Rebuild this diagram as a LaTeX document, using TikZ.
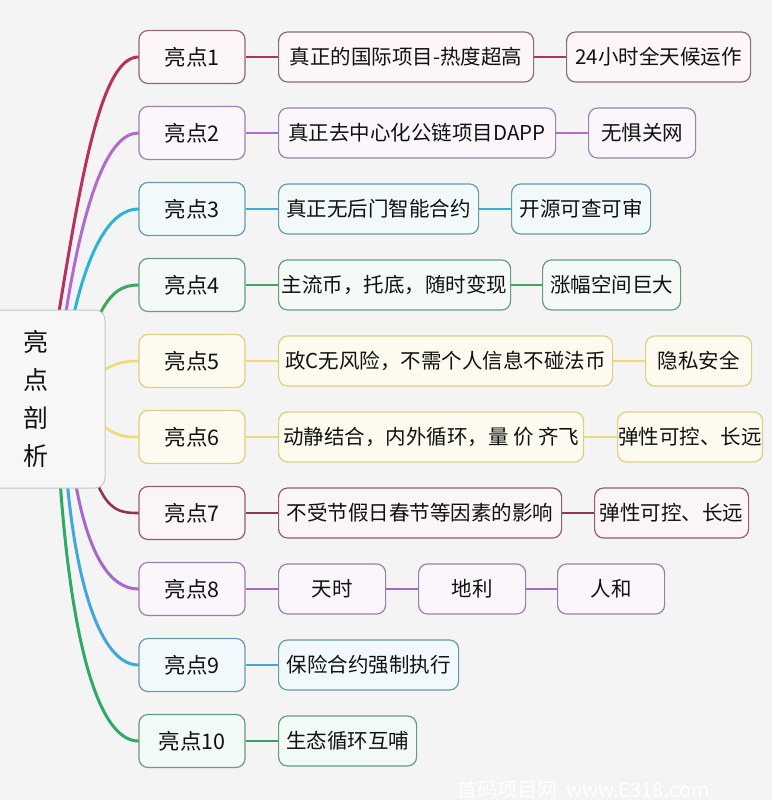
\documentclass[tikz,border=0pt]{standalone}
\usepackage{fontspec}
\setmainfont{Noto Sans CJK SC}
\usetikzlibrary{positioning}
\pgfdeclarelayer{bglayer}
\pgfdeclarelayer{lines}
\pgfsetlayers{bglayer,lines,main}
\definecolor{bgc}{HTML}{F5F4F5}
\definecolor{txt}{HTML}{111111}
% line colours
\definecolor{l1}{HTML}{B8305E}
\definecolor{l2}{HTML}{B06AD0}
\definecolor{l3}{HTML}{2CB4D8}
\definecolor{l4}{HTML}{3AA860}
\definecolor{l5}{HTML}{ECDC72}
\definecolor{l6}{HTML}{ECDC72}
\definecolor{l7}{HTML}{8C3850}
\definecolor{l8}{HTML}{A868C8}
\definecolor{l9}{HTML}{40A8D8}
\definecolor{l10}{HTML}{30A868}
% border colours
\definecolor{k1}{HTML}{8C6A78}
\definecolor{k2}{HTML}{9A84A8}
\definecolor{k3}{HTML}{6A9AA8}
\definecolor{k4}{HTML}{6A9A80}
\definecolor{k5}{HTML}{DCCF84}
\definecolor{k6}{HTML}{DCCF84}
\definecolor{k7}{HTML}{906070}
\definecolor{k8}{HTML}{9A80A8}
\definecolor{k9}{HTML}{6A9AA8}
\definecolor{k10}{HTML}{6A9A80}
% fill colours
\definecolor{f1}{HTML}{FCF6F8}
\definecolor{f2}{HTML}{FAF6FC}
\definecolor{f3}{HTML}{F2F9FB}
\definecolor{f4}{HTML}{F4FAF6}
\definecolor{f5}{HTML}{FDFBF0}
\definecolor{f6}{HTML}{FDFBF0}
\definecolor{f7}{HTML}{FCF5F7}
\definecolor{f8}{HTML}{FAF6FC}
\definecolor{f9}{HTML}{F2F9FC}
\definecolor{f10}{HTML}{F2FAF5}
\begin{document}
\begin{tikzpicture}[x=1pt,y=-1pt,
  box/.style={draw=k#1, fill=f#1, rounded corners=9pt, line width=1.2pt,
    minimum height=50pt, inner sep=0pt, text=txt,
    font=\fontsize{20.5}{21}\selectfont},
  brbox/.style={box=#1, minimum height=53pt, minimum width=106pt,
    font=\fontsize{21.5}{22}\selectfont},
  lvl/.style={anchor=west},
  ln/.style={draw=l#1, line width=2pt},
  cv/.style={draw=l#1, line width=3pt, line cap=round},
  rootbox/.style={draw=black!22, fill=white!97!black, rounded corners=10pt,
    line width=1pt, inner sep=0pt, text=txt, align=center,
    font=\fontsize{25}{38}\selectfont}
]
\useasboundingbox (0,0) rectangle (772,800);
\begin{pgfonlayer}{bglayer}
\fill[bgc] (0,0) rectangle (772,800);
\end{pgfonlayer}

% root
\node[rootbox, minimum width=138pt, minimum height=178pt] (root) at (36,399)
  {亮\\点\\剖\\析};

% branch nodes
\node[brbox=1] (b1) at (192,57) {亮点1};
\node[brbox=2] (b2) at (192,133) {亮点2};
\node[brbox=3] (b3) at (192,209) {亮点3};
\node[brbox=4] (b4) at (192,285) {亮点4};
\node[brbox=5] (b5) at (192,361) {亮点5};
\node[brbox=6] (b6) at (192,437) {亮点6};
\node[brbox=7] (b7) at (192,513) {亮点7};
\node[brbox=8] (b8) at (192,589) {亮点8};
\node[brbox=9] (b9) at (192,665) {亮点9};
\node[brbox=10] (b10) at (192,741) {亮点10};

% second level
\node[box=1, lvl, minimum width=255pt] (n1a) at (278,57) {真正的国际项目-热度超高};
\node[box=1, lvl, minimum width=184pt] (n1b) at (566,57) {24小时全天候运作};
\node[box=2, lvl, minimum width=277pt] (n2a) at (278,133) {真正去中心化公链项目DAPP};
\node[box=2, lvl, minimum width=107pt] (n2b) at (588,133) {无惧关网};
\node[box=3, lvl, minimum width=200pt] (n3a) at (278,209) {真正无后门智能合约};
\node[box=3, lvl, minimum width=139pt] (n3b) at (511,209) {开源可查可审};
\node[box=4, lvl, minimum width=232pt] (n4a) at (278,285) {主流币，托底，随时变现};
\node[box=4, lvl, minimum width=138pt] (n4b) at (542,285) {涨幅空间巨大};
\node[box=5, lvl, minimum width=334pt] (n5a) at (278,361) {政C无风险，不需个人信息不碰法币};
\node[box=5, lvl, minimum width=106pt] (n5b) at (645,361) {隐私安全};
\node[box=6, lvl, minimum width=305pt] (n6a) at (278,437) {动静结合，内外循环，量 价 齐飞};
\node[box=6, lvl, minimum width=145pt] (n6b) at (617,437) {弹性可控、长远};
\node[box=7, lvl, minimum width=283pt] (n7a) at (278,513) {不受节假日春节等因素的影响};
\node[box=7, lvl, minimum width=154pt] (n7b) at (594,513) {弹性可控、长远};
\node[box=8, lvl, minimum width=107pt] (n8a) at (278,589) {天时};
\node[box=8, lvl, minimum width=107pt] (n8b) at (418,589) {地利};
\node[box=8, lvl, minimum width=107pt] (n8c) at (557,589) {人和};
\node[box=9, lvl, minimum width=180pt] (n9a) at (278,665) {保险合约强制执行};
\node[box=10, lvl, minimum width=138pt] (n10a) at (278,741) {生态循环互哺};

% watermark
\node[anchor=west, text=white, font=\fontsize{20}{20}\selectfont, inner sep=0pt]
  (wm) at (457,790) {首码项目网\ \ www.E318.com};

% origins of the curves (under the root box)
\coordinate (o1) at (58,318);
\coordinate (o2) at (65,318);
\coordinate (o3) at (73,318);
\coordinate (o4) at (98,318);
\coordinate (o5) at (100,372);
\coordinate (o6) at (100,424);
\coordinate (o7) at (96,480);
\coordinate (o8) at (75,480);
\coordinate (o9) at (67,480);
\coordinate (o10) at (60,480);

\begin{pgfonlayer}{lines}
\draw[cv=1] (o1) .. controls (82,170) and (102,57) .. (b1.west);
\draw[cv=2] (o2) .. controls (85,190) and (110,133) .. (b2.west);
\draw[cv=3] (o3) .. controls (88,250) and (110,209) .. (b3.west);
\draw[cv=4] (o4) .. controls (110,292) and (122,285) .. (b4.west);
\draw[cv=5, line width=2.6pt] (o5) .. controls (118,362) and (125,361) .. (b5.west);
\draw[cv=6, line width=2.6pt] (o6) .. controls (118,437) and (125,437) .. (b6.west);
\draw[cv=7, line width=2.6pt] (o7) .. controls (108,512) and (122,513) .. (b7.west);
\draw[cv=8] (o8) .. controls (88,555) and (110,589) .. (b8.west);
\draw[cv=9] (o9) .. controls (78,600) and (105,665) .. (b9.west);
\draw[cv=10] (o10) .. controls (72,650) and (100,741) .. (b10.west);

\draw[ln=1] (b1.east) -- (n1a.west);
\draw[ln=1] (n1a.east) -- (n1b.west);
\draw[ln=2] (b2.east) -- (n2a.west);
\draw[ln=2] (n2a.east) -- (n2b.west);
\draw[ln=3] (b3.east) -- (n3a.west);
\draw[ln=3] (n3a.east) -- (n3b.west);
\draw[ln=4] (b4.east) -- (n4a.west);
\draw[ln=4] (n4a.east) -- (n4b.west);
\draw[ln=5] (b5.east) -- (n5a.west);
\draw[ln=5] (n5a.east) -- (n5b.west);
\draw[ln=6] (b6.east) -- (n6a.west);
\draw[ln=6] (n6a.east) -- (n6b.west);
\draw[ln=7] (b7.east) -- (n7a.west);
\draw[ln=7] (n7a.east) -- (n7b.west);
\draw[ln=8] (b8.east) -- (n8a.west);
\draw[ln=8] (n8a.east) -- (n8b.west);
\draw[ln=8] (n8b.east) -- (n8c.west);
\draw[ln=9] (b9.east) -- (n9a.west);
\draw[ln=10] (b10.east) -- (n10a.west);
\end{pgfonlayer}
\end{tikzpicture}
\end{document}
